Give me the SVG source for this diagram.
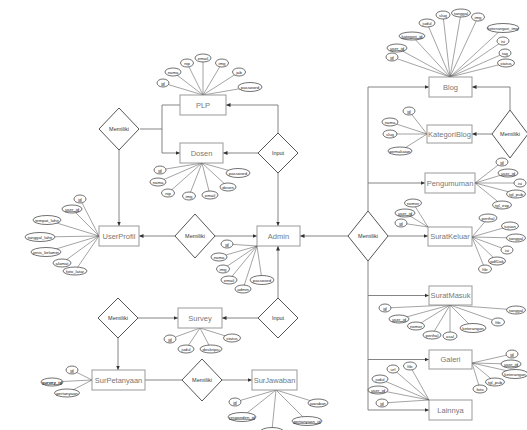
<svg xmlns="http://www.w3.org/2000/svg" width="527" height="430" viewBox="0 0 527 430">
<style>
.box{fill:#fff;stroke:#999;stroke-width:1}
.bt{font-family:"Liberation Sans",Arial,sans-serif;font-size:7.5px;fill:#777;text-anchor:middle;dominant-baseline:central}
.dia{fill:#fff;stroke:#555;stroke-width:1}
.dt{font-family:"Liberation Sans",Arial,sans-serif;font-size:5.5px;fill:#333;text-anchor:middle;dominant-baseline:central}
.e{fill:#fff;stroke:#333;stroke-width:0.7}
.et{font-family:"Liberation Sans",Arial,sans-serif;font-size:4.3px;fill:#222;text-anchor:middle;dominant-baseline:central}
.u{text-decoration:underline}
.ln{stroke:#777;stroke-width:0.9;fill:none}
.al{stroke:#333;stroke-width:0.45;fill:none}
</style>
<defs>
<marker id="ar" markerWidth="5" markerHeight="5" refX="4.5" refY="2.5" orient="auto" markerUnits="userSpaceOnUse">
<path d="M0,0.5 L4.5,2.5 L0,4.5 Z" fill="#333"/>
</marker>
</defs>
<rect width="527" height="430" fill="#fff"/>
<g id="connectors">
<path class="ln" d="M180,105 H162 V153 H180" marker-end="url(#ar)"/>
<path class="ln" d="M140,129 H162"/>
<path class="ln" d="M119,150 V226" marker-end="url(#ar)"/>
<path class="ln" d="M278,133 V105 H226" marker-end="url(#ar)"/>
<path class="ln" d="M258,153 H223" marker-end="url(#ar)"/>
<path class="ln" d="M278,173 V226" marker-end="url(#ar)"/>
<path class="ln" d="M175,236 H139" marker-end="url(#ar)"/>
<path class="ln" d="M215,236 H257" marker-end="url(#ar)"/>
<path class="ln" d="M348,236 H300" marker-end="url(#ar)"/>
<path class="ln" d="M388,236 H428" marker-end="url(#ar)"/>
<path class="ln" d="M368,211 V87 H429" marker-end="url(#ar)"/>
<path class="ln" d="M368,183 H425" marker-end="url(#ar)"/>
<path class="ln" d="M368,261 V410 H429" marker-end="url(#ar)"/>
<path class="ln" d="M368,295.5 H429" marker-end="url(#ar)"/>
<path class="ln" d="M368,359.5 H429" marker-end="url(#ar)"/>
<path class="ln" d="M510,110 V87 H472" marker-end="url(#ar)"/>
<path class="ln" d="M492,134 H472" marker-end="url(#ar)"/>
<path class="ln" d="M278,298 V246" marker-end="url(#ar)"/>
<path class="ln" d="M258,318 H222" marker-end="url(#ar)"/>
<path class="ln" d="M138,318 H178" marker-end="url(#ar)"/>
<path class="ln" d="M118,338 V370" marker-end="url(#ar)"/>
<path class="ln" d="M145,380 H182"/>
<path class="ln" d="M222,380 H252" marker-end="url(#ar)"/>
<!-- attribute lines -->
<path class="al" d="M163,83 L203,95 M173,72 L203,95 M187,63 L203,95 M203,58 L203,95 M222,63 L203,95 M239,72 L203,95 M250,87 L203,95"/>
<path class="al" d="M160,170 L202,163 M158,182 L202,163 M168,193 L202,163 M189,196 L202,163 M210,195 L202,163 M228,187 L202,163 M238,173 L202,163"/>
<path class="al" d="M80,199 L99,236 M72,209 L99,236 M47,220 L99,236 M40,237 L99,236 M46,252 L99,236 M62,263 L99,236 M75,271 L99,236"/>
<path class="al" d="M227,244 L257,246 M219,257 L257,246 M223,269 L257,246 M229,280 L257,246 M243,289 L257,246 M262,280 L257,246"/>
<path class="al" d="M170,339 L200,328 M186,349 L200,328 M211,349 L200,328 M232,338 L200,328"/>
<path class="al" d="M72,370 L92,380 M52,382 L92,380 M67,393 L92,380"/>
<path class="al" d="M235,402 L276,390 M242,417 L276,390 M307,421 L276,390 M318,403 L276,390 M272,430 L276,390"/>
<path class="al" d="M392,57 L450,77 M397,48 L450,77 M412,36 L450,77 M427,23 L450,77 M443,15 L450,77 M461,13 L450,77 M478,17 L450,77 M503,28 L450,77 M503,41 L450,77 M505,53 L450,77 M506,63 L450,77"/>
<path class="al" d="M409,111 L427,134 M390,122 L427,134 M390,134 L427,134 M400,151 L427,134"/>
<path class="al" d="M502,162 L475,183 M508,173 L475,183 M522,183 L475,183 M517,194 L475,183 M502,205 L475,183"/>
<path class="al" d="M413,203 L428,227 M405,213 L428,227 M401,223 L428,227 M488,218 L472,237 M510,226 L472,237 M517,238 L472,237 M507,250 L472,237 M497,261 L472,237 M485,269 L472,237"/>
<path class="al" d="M385,308 L450,305 M399,319 L450,305 M416,326 L450,305 M432,335 L450,305 M450,336 L450,305 M473,328 L450,305 M498,322 L450,305 M517,310 L450,305"/>
<path class="al" d="M512,354 L472,363 M511,364 L472,363 M517,373 L472,363 M495,382 L472,363 M480,389 L472,363"/>
<path class="al" d="M410,366 L429,400 M393,369 L429,400 M380,379 L429,400 M378,390 L429,400 M382,403 L429,400"/>
</g>
<g id="PLP">
<rect class="box" x="180" y="95" width="46" height="20"/><text class="bt" x="203" y="105">PLP</text>
<ellipse class="e" cx="163" cy="83" rx="6" ry="4"/><text class="et u" x="163" y="83">id</text>
<ellipse class="e" cx="173" cy="72" rx="8" ry="4"/><text class="et" x="173" y="72">nama</text>
<ellipse class="e" cx="187" cy="63" rx="6.5" ry="4"/><text class="et" x="187" y="63">nip</text>
<ellipse class="e" cx="203" cy="58" rx="8" ry="4"/><text class="et" x="203" y="58">email</text>
<ellipse class="e" cx="222" cy="63" rx="6.5" ry="4"/><text class="et" x="222" y="63">img</text>
<ellipse class="e" cx="239" cy="72" rx="6.5" ry="4"/><text class="et" x="239" y="72">jab</text>
<ellipse class="e" cx="250" cy="87" rx="12" ry="4.5"/><text class="et" x="250" y="87">password</text>
</g>
<g id="Dosen">
<rect class="box" x="180" y="143" width="43" height="20"/><text class="bt" x="201.5" y="153">Dosen</text>
<ellipse class="e" cx="160" cy="170" rx="6" ry="4"/><text class="et u" x="160" y="170">id</text>
<ellipse class="e" cx="158" cy="182" rx="8" ry="4"/><text class="et" x="158" y="182">nama</text>
<ellipse class="e" cx="168" cy="193" rx="6.5" ry="4"/><text class="et" x="168" y="193">nip</text>
<ellipse class="e" cx="189" cy="196" rx="6.5" ry="4"/><text class="et" x="189" y="196">img</text>
<ellipse class="e" cx="210" cy="195" rx="8" ry="4"/><text class="et" x="210" y="195">email</text>
<ellipse class="e" cx="228" cy="187" rx="8" ry="4"/><text class="et" x="228" y="187">dosen</text>
<ellipse class="e" cx="238" cy="173" rx="12" ry="4.5"/><text class="et" x="238" y="173">password</text>
</g>
<g id="UserProfil">
<rect class="box" x="99" y="226" width="40" height="20"/><text class="bt" x="119" y="236">UserProfil</text>
<ellipse class="e" cx="80" cy="199" rx="6" ry="4"/><text class="et u" x="80" y="199">id</text>
<ellipse class="e" cx="72" cy="209" rx="10" ry="4"/><text class="et u" x="72" y="209">user_id</text>
<ellipse class="e" cx="47" cy="220" rx="14" ry="4.5"/><text class="et" x="47" y="220">tempat_lahir</text>
<ellipse class="e" cx="40" cy="237" rx="15" ry="4.5"/><text class="et" x="40" y="237">tanggal_lahir</text>
<ellipse class="e" cx="46" cy="252" rx="15" ry="4.5"/><text class="et" x="46" y="252">jenis_kelamin</text>
<ellipse class="e" cx="62" cy="263" rx="9" ry="4"/><text class="et" x="62" y="263">alamat</text>
<ellipse class="e" cx="75" cy="271" rx="12" ry="4"/><text class="et" x="75" y="271">foto_latar</text>
</g>
<g id="Admin">
<rect class="box" x="257" y="226" width="43" height="20"/><text class="bt" x="278.5" y="236">Admin</text>
<ellipse class="e" cx="227" cy="244" rx="6" ry="4"/><text class="et u" x="227" y="244">id</text>
<ellipse class="e" cx="219" cy="257" rx="8" ry="4"/><text class="et" x="219" y="257">nama</text>
<ellipse class="e" cx="223" cy="269" rx="6.5" ry="4"/><text class="et" x="223" y="269">img</text>
<ellipse class="e" cx="229" cy="280" rx="8" ry="4"/><text class="et" x="229" y="280">email</text>
<ellipse class="e" cx="243" cy="289" rx="8" ry="4"/><text class="et" x="243" y="289">admin</text>
<ellipse class="e" cx="262" cy="280" rx="12" ry="4.5"/><text class="et" x="262" y="280">password</text>
</g>
<g id="Survey">
<rect class="box" x="178" y="308" width="44" height="20"/><text class="bt" x="200" y="318">Survey</text>
<ellipse class="e" cx="170" cy="339" rx="6" ry="4"/><text class="et u" x="170" y="339">id</text>
<ellipse class="e" cx="186" cy="349" rx="8" ry="4"/><text class="et" x="186" y="349">judul</text>
<ellipse class="e" cx="211" cy="349" rx="11" ry="4"/><text class="et" x="211" y="349">deskripsi</text>
<ellipse class="e" cx="232" cy="338" rx="8.5" ry="4"/><text class="et" x="232" y="338">status</text>
</g>
<g id="SurPetanyaan">
<rect class="box" x="92" y="370" width="53" height="20"/><text class="bt" x="118.5" y="380">SurPetanyaan</text>
<ellipse class="e" cx="72" cy="370" rx="6" ry="4"/><text class="et u" x="72" y="370">id</text>
<ellipse class="e" cx="52" cy="382" rx="11" ry="4"/><text class="et u" x="52" y="382" font-weight="bold">survey_id</text>
<ellipse class="e" cx="67" cy="393" rx="12.5" ry="4"/><text class="et" x="67" y="393">pertanyaan</text>
</g>
<g id="SurJawaban">
<rect class="box" x="252" y="370" width="45" height="20"/><text class="bt" x="274.5" y="380">SurJawaban</text>
<ellipse class="e" cx="235" cy="402" rx="6" ry="4"/><text class="et u" x="235" y="402">id</text>
<ellipse class="e" cx="242" cy="417" rx="14" ry="4.5"/><text class="et u" x="242" y="417">responden_id</text>
<ellipse class="e" cx="307" cy="421" rx="15" ry="4.5"/><text class="et u" x="307" y="421">pertanyaan_id</text>
<ellipse class="e" cx="318" cy="403" rx="10" ry="4"/><text class="et" x="318" y="403">jawaban</text>
<ellipse class="e" cx="272" cy="432" rx="12" ry="4.5"/>
</g>
<g id="Blog">
<rect class="box" x="429" y="77" width="43" height="20"/><text class="bt" x="450.5" y="87">Blog</text>
<ellipse class="e" cx="392" cy="57" rx="6" ry="4"/><text class="et u" x="392" y="57">id</text>
<ellipse class="e" cx="397" cy="48" rx="10" ry="4"/><text class="et u" x="397" y="48">user_id</text>
<ellipse class="e" cx="412" cy="36" rx="13" ry="4"/><text class="et u" x="412" y="36">kategori_id</text>
<ellipse class="e" cx="427" cy="23" rx="8" ry="4"/><text class="et" x="427" y="23">judul</text>
<ellipse class="e" cx="443" cy="15" rx="7" ry="4"/><text class="et" x="443" y="15">slug</text>
<ellipse class="e" cx="461" cy="13" rx="9.5" ry="4"/><text class="et" x="461" y="13">tanggal</text>
<ellipse class="e" cx="478" cy="17" rx="6.5" ry="4"/><text class="et" x="478" y="17">img</text>
<ellipse class="e" cx="503" cy="28" rx="16" ry="4.5"/><text class="et" x="503" y="28">keterangan_img</text>
<ellipse class="e" cx="503" cy="41" rx="6" ry="4"/><text class="et" x="503" y="41">isi</text>
<ellipse class="e" cx="505" cy="53" rx="6" ry="4"/><text class="et" x="505" y="53">tag</text>
<ellipse class="e" cx="506" cy="63" rx="8.5" ry="4"/><text class="et" x="506" y="63">status</text>
</g>
<g id="KategoriBlog">
<rect class="box" x="427" y="125" width="45" height="18"/><text class="bt" x="449.5" y="134">KategoriBlog</text>
<ellipse class="e" cx="409" cy="111" rx="6" ry="4"/><text class="et u" x="409" y="111">id</text>
<ellipse class="e" cx="390" cy="122" rx="8" ry="4"/><text class="et" x="390" y="122">nama</text>
<ellipse class="e" cx="390" cy="134" rx="7" ry="4"/><text class="et" x="390" y="134">slug</text>
<ellipse class="e" cx="400" cy="151" rx="12" ry="4"/><text class="et" x="400" y="151">pemakaian</text>
</g>
<g id="Pengumuman">
<rect class="box" x="425" y="173" width="50" height="20"/><text class="bt" x="450" y="183">Pengumuman</text>
<ellipse class="e" cx="502" cy="162" rx="6" ry="4"/><text class="et u" x="502" y="162">id</text>
<ellipse class="e" cx="508" cy="173" rx="10" ry="4"/><text class="et u" x="508" y="173">user_id</text>
<ellipse class="e" cx="520" cy="183" rx="6" ry="4"/><text class="et" x="520" y="183">isi</text>
<ellipse class="e" cx="516" cy="194" rx="9.5" ry="4"/><text class="et" x="516" y="194">tgl_pub</text>
<ellipse class="e" cx="502" cy="205" rx="9.5" ry="4"/><text class="et" x="502" y="205">tgl_exp</text>
</g>
<g id="SuratKeluar">
<rect class="box" x="428" y="227" width="44" height="19"/><text class="bt" x="450" y="236.5">SuratKeluar</text>
<ellipse class="e" cx="413" cy="203" rx="8.5" ry="4"/><text class="et" x="413" y="203">nomor</text>
<ellipse class="e" cx="405" cy="213" rx="10" ry="4"/><text class="et u" x="405" y="213">user_id</text>
<ellipse class="e" cx="401" cy="223" rx="6" ry="4"/><text class="et u" x="401" y="223">id</text>
<ellipse class="e" cx="488" cy="218" rx="9" ry="4"/><text class="et" x="488" y="218">perihal</text>
<ellipse class="e" cx="510" cy="226" rx="8.5" ry="4"/><text class="et" x="510" y="226">tujuan</text>
<ellipse class="e" cx="516" cy="238" rx="9.5" ry="4"/><text class="et" x="516" y="238">tanggal</text>
<ellipse class="e" cx="507" cy="250" rx="6" ry="4"/><text class="et" x="507" y="250">isi</text>
<ellipse class="e" cx="497" cy="261" rx="8.5" ry="4"/><text class="et" x="497" y="261">pdfDok</text>
<ellipse class="e" cx="485" cy="269" rx="6.5" ry="4"/><text class="et" x="485" y="269">file</text>
</g>
<g id="SuratMasuk">
<rect class="box" x="429" y="286" width="43" height="19"/><text class="bt" x="450.5" y="295.5">SuratMasuk</text>
<ellipse class="e" cx="385" cy="308" rx="6" ry="4"/><text class="et u" x="385" y="308">id</text>
<ellipse class="e" cx="399" cy="319" rx="10" ry="4"/><text class="et u" x="399" y="319">user_id</text>
<ellipse class="e" cx="416" cy="326" rx="8.5" ry="4"/><text class="et" x="416" y="326">nomor</text>
<ellipse class="e" cx="432" cy="335" rx="9" ry="4"/><text class="et" x="432" y="335">perihal</text>
<ellipse class="e" cx="450" cy="336" rx="7" ry="4"/><text class="et" x="450" y="336">asal</text>
<ellipse class="e" cx="473" cy="328" rx="13" ry="4.5"/><text class="et" x="473" y="328">keterangan</text>
<ellipse class="e" cx="498" cy="322" rx="6.5" ry="4"/><text class="et" x="498" y="322">file</text>
<ellipse class="e" cx="516" cy="310" rx="9.5" ry="4"/><text class="et" x="516" y="310">tanggal</text>
</g>
<g id="Galeri">
<rect class="box" x="429" y="350" width="43" height="19"/><text class="bt" x="450.5" y="359.5">Galeri</text>
<ellipse class="e" cx="512" cy="354" rx="6" ry="4"/><text class="et u" x="512" y="354">id</text>
<ellipse class="e" cx="511" cy="364" rx="10" ry="4"/><text class="et u" x="511" y="364">user_id</text>
<ellipse class="e" cx="515" cy="374" rx="13" ry="4.5"/><text class="et" x="515" y="374">keterangan</text>
<ellipse class="e" cx="495" cy="382" rx="9.5" ry="4"/><text class="et" x="495" y="382">tgl_pub</text>
<ellipse class="e" cx="480" cy="389" rx="7" ry="4"/><text class="et" x="480" y="389">foto</text>
</g>
<g id="Lainnya">
<rect class="box" x="429" y="400" width="43" height="20"/><text class="bt" x="450.5" y="410">Lainnya</text>
<ellipse class="e" cx="410" cy="366" rx="6.5" ry="4"/><text class="et" x="410" y="366">file</text>
<ellipse class="e" cx="393" cy="369" rx="6" ry="4"/><text class="et" x="393" y="369">url</text>
<ellipse class="e" cx="380" cy="379" rx="8" ry="4"/><text class="et" x="380" y="379">judul</text>
<ellipse class="e" cx="378" cy="390" rx="10" ry="4"/><text class="et u" x="378" y="390">user_id</text>
<ellipse class="e" cx="382" cy="403" rx="6" ry="4"/><text class="et u" x="382" y="403">id</text>
</g>
<g id="memiliki-plp"><path class="dia" d="M119,108 L139,129 L119,150 L99,129 Z"/><text class="dt" x="119" y="129">Memiliki</text></g>
<g id="input-dosen"><path class="dia" d="M278,133 L298,153 L278,173 L258,153 Z"/><text class="dt" x="278" y="153">Input</text></g>
<g id="memiliki-userprofil"><path class="dia" d="M195,214 L215,236 L195,258 L175,236 Z"/><text class="dt" x="195" y="236">Memiliki</text></g>
<g id="memiliki-admin"><path class="dia" d="M368,211 L388,236 L368,261 L348,236 Z"/><text class="dt" x="368" y="236">Memiliki</text></g>
<g id="memiliki-kategori"><path class="dia" d="M510,110 L528,134 L510,158 L492,134 Z"/><text class="dt" x="510" y="134">Memiliki</text></g>
<g id="input-survey"><path class="dia" d="M278,298 L298,318 L278,338 L258,318 Z"/><text class="dt" x="278" y="318">Input</text></g>
<g id="memiliki-survey"><path class="dia" d="M118,298 L138,318 L118,338 L98,318 Z"/><text class="dt" x="118" y="318">Memiliki</text></g>
<g id="memiliki-jawaban"><path class="dia" d="M202,359 L222,380 L202,401 L182,380 Z"/><text class="dt" x="202" y="380">Memiliki</text></g>
</svg>
